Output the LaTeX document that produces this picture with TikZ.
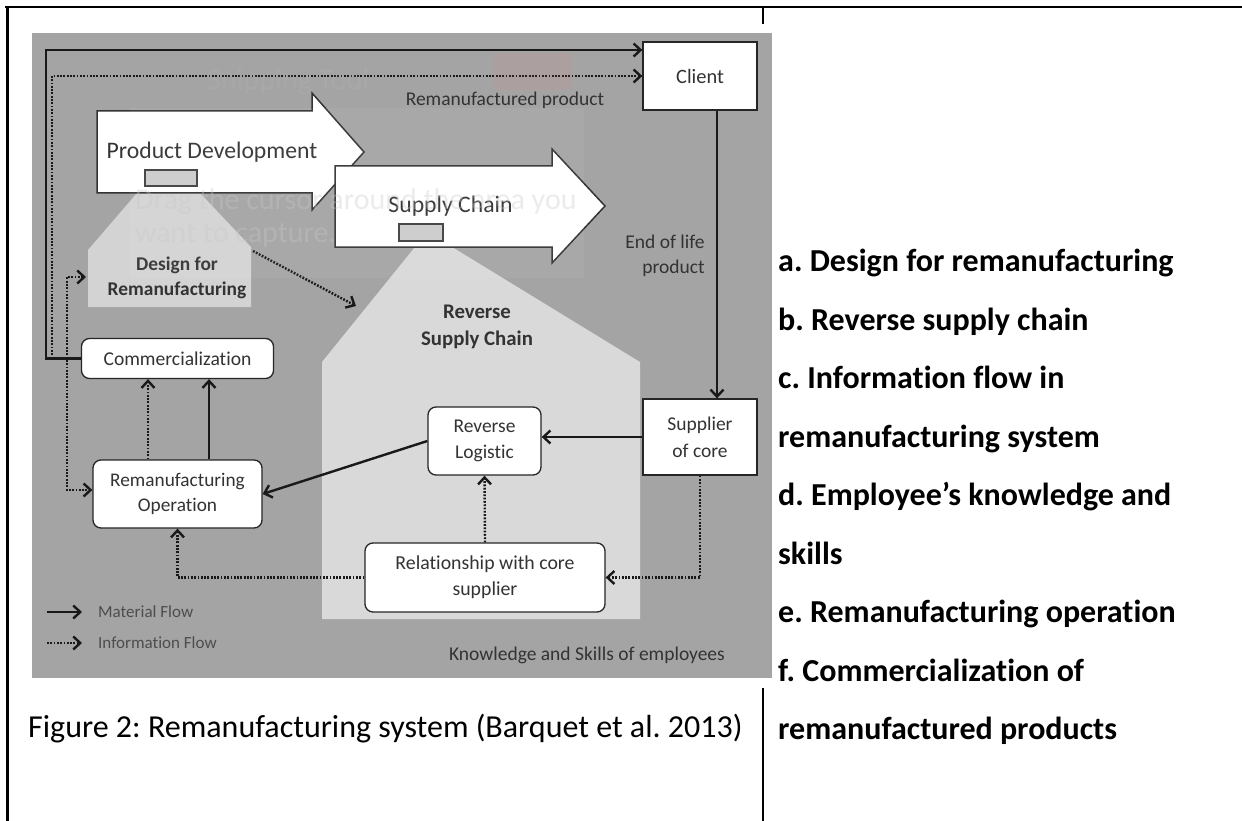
\documentclass[tikz,border=0pt]{standalone}
\usepackage{fontspec}
\setmainfont{Carlito}[Ligatures=NoCommon]
\usetikzlibrary{arrows.meta}
\frenchspacing

\definecolor{bggrey}{HTML}{A4A4A4}
\definecolor{rscgrey}{HTML}{D9D9D9}
\definecolor{dfrgrey}{HTML}{D3D3D3}
\definecolor{slotgrey}{HTML}{CCCCCC}
\definecolor{txtgrey}{HTML}{333333}
\definecolor{leggrey}{HTML}{4D4D4D}
\definecolor{wmgrey}{HTML}{C8C8C8}
\newcommand\fsz[2]{\fontsize{#1}{#2}\selectfont}

\begin{document}
\begin{tikzpicture}[x=1pt,y=-1pt,
  >={Straight Barb[length=7pt,width=13pt]},
  box/.style={draw=black!85,line width=1.3pt,fill=white,inner sep=0pt,align=center,text=txtgrey,font=\fsz{19.5}{26}},
  rbox/.style={box,rounded corners=8pt},
  slot/.style={draw=black!75,line width=1.2pt,fill=slotgrey,inner sep=0pt},
  mat/.style={line width=2.4pt,draw=black!90,->},
  info/.style={mat,dash pattern=on 1.8pt off 1.5pt},
  bigarr/.style={draw=black!80,line width=1.5pt,fill=white,line join=miter},
  lbl/.style={inner sep=0pt,text=txtgrey,font=\fsz{19.5}{25}}]
  \useasboundingbox (0,0) rectangle (1242,821);
  \fill[white] (0,0) rectangle (1242,821);
  \draw[line width=2.5pt] (5,7) -- (1242,7);
  \draw[line width=3pt] (7,7) -- (7,821);
  \draw[line width=2pt] (763,7) -- (763,24);
  \draw[line width=2pt] (763,688) -- (763,821);
  \fill[bggrey] (32,33) rectangle (772,678);
  \fill[dfrgrey] (137,193) -- (88,250) -- (88,307) -- (251,307) -- (251,247) -- (200,193) -- cycle;
  \fill[rscgrey] (415,247) -- (322,362) -- (322,619) -- (640,619) -- (640,362) -- (452,247) -- cycle;
  \draw[bigarr] (97,111) -- (312,111) -- (312,93) -- (364,152) -- (312,210) -- (312,193) -- (97,193) -- cycle;
  \draw[bigarr] (335,166) -- (552,166) -- (552,149) -- (605,206) -- (552,263) -- (552,247) -- (335,247) -- cycle;
  \node[slot,minimum width=52pt,minimum height=16pt] (pdslot) at (171,178) {};
  \node[slot,minimum width=44pt,minimum height=17pt] (scslot) at (421,232.5) {};
  \node[lbl,font=\fsz{23.7}{28},anchor=base] (pd) at (212,159) {Product Development};
  \node[lbl,font=\fsz{23.7}{28},anchor=base] (sc) at (450.5,213) {Supply Chain};
  \node[lbl,font=\fsz{19.4}{25}\bfseries,align=center] (dfr) at (177,278) {Design for\\Remanufacturing};
  \node[lbl,font=\fsz{20.8}{27}\bfseries,align=center] (rsc) at (477,327) {Reverse\\Supply Chain};
  \node[lbl,anchor=base] (remprod) at (505,106) {Remanufactured product};
  \node[lbl,align=right] (eol) at (665,256) {End of life\\product};
  \node[lbl] (know) at (587,655) {Knowledge and Skills of employees};
  \node[box,minimum width=114pt,minimum height=68pt,font=\fsz{20.4}{25}] (client) at (700,76) {Client};
  \node[box,minimum width=114pt,minimum height=76pt,font=\fsz{19.5}{27}] (supplier) at (700,437) {Supplier\\of core};
  \node[rbox,minimum width=113pt,minimum height=68pt] (rl) at (484.5,441) {Reverse\\Logistic};
  \node[rbox,minimum width=169pt,minimum height=68pt,font=\fsz{19.3}{25}] (ro) at (177.5,494) {Remanufacturing\\Operation};
  \node[rbox,minimum width=192pt,minimum height=40pt,font=\fsz{19.6}{24}] (comm) at (177.5,358.5) {Commercialization};
  \node[rbox,minimum width=240pt,minimum height=69pt,font=\fsz{19.8}{26}] (rel) at (485,577.5) {Relationship with core\\supplier};
  \coordinate (infotop) at (52,355);
  \coordinate (dfrin) at (86,277);
  \coordinate (dfrout) at (253,251);
  \coordinate (rscin) at (356,306);
  \draw[mat] (comm.west) -- ++(-35,0) |- ([yshift=26pt]client.west);
  \draw[info] (infotop) |- (client.west);
  \draw[mat] ([xshift=17pt]client.south) -- ([xshift=17pt]client.south |- supplier.north);
  \draw[mat] (supplier.west) -- (supplier.west -| rl.east);
  \draw[mat] (rl.west) -- (ro.east);
  \draw[mat] ([xshift=31.5pt]ro.north) -- ([xshift=31.5pt]ro.north |- comm.south);
  \draw[info] ([xshift=-29.5pt]ro.north) -- ([xshift=-29.5pt]ro.north |- comm.south);
  \draw[info] (rel.north) -- (rl.south);
  \draw[info] (rel.west) -| (ro.south);
  \draw[info] (supplier.south) |- (rel.east);
  \draw[info,<->] (dfrin) -- ++(-19,0) |- ([yshift=4pt]ro.west);
  \draw[info] (dfrout) -- (rscin);
  \node[lbl,anchor=west,font=\fsz{17}{20},text=leggrey] (matleg) at (98,612) {Material Flow};
  \node[lbl,anchor=west,font=\fsz{17}{20},text=leggrey] (infoleg) at (98,643) {Information Flow};
  \draw[mat] ([xshift=-51pt]matleg.west) -- ([xshift=-16pt]matleg.west);
  \draw[info] ([xshift=-51pt]infoleg.west) -- ([xshift=-16pt]infoleg.west);
  \fill[white,opacity=.05] (130,108) rectangle (584,278);
  \fill[red!60!white,opacity=.08] (493,53) rectangle (572,90);
  \node[anchor=base west,inner sep=0pt,text=wmgrey,opacity=.12,font=\fsz{30}{32}] (snip) at (207,90) {Snipping Tool};
  \node[anchor=base west,inner sep=0pt,text=wmgrey,opacity=.35,font=\fsz{30}{32}] (drag) at (135,210) {Drag the cursor around the area you};
  \node[anchor=base west,inner sep=0pt,text=wmgrey,opacity=.35,font=\fsz{30}{32}] (capture) at (135,242) {want to capture.};
  \node[anchor=base west,inner sep=0pt,font=\fsz{32}{38}] (caption) at (28,737) {Figure 2: Remanufacturing system (Barquet et al. 2013)};
  \node[anchor=north west,inner sep=0pt,align=left,font=\fsz{32}{58.5}\bfseries] (items) at (778,249) {a. Design for remanufacturing\\b. Reverse supply chain\\c. Information flow in\\remanufacturing system\\d. Employee’s knowledge and\\skills\\e. Remanufacturing operation\\f. Commercialization of\\remanufactured products};
\end{tikzpicture}
\end{document}
